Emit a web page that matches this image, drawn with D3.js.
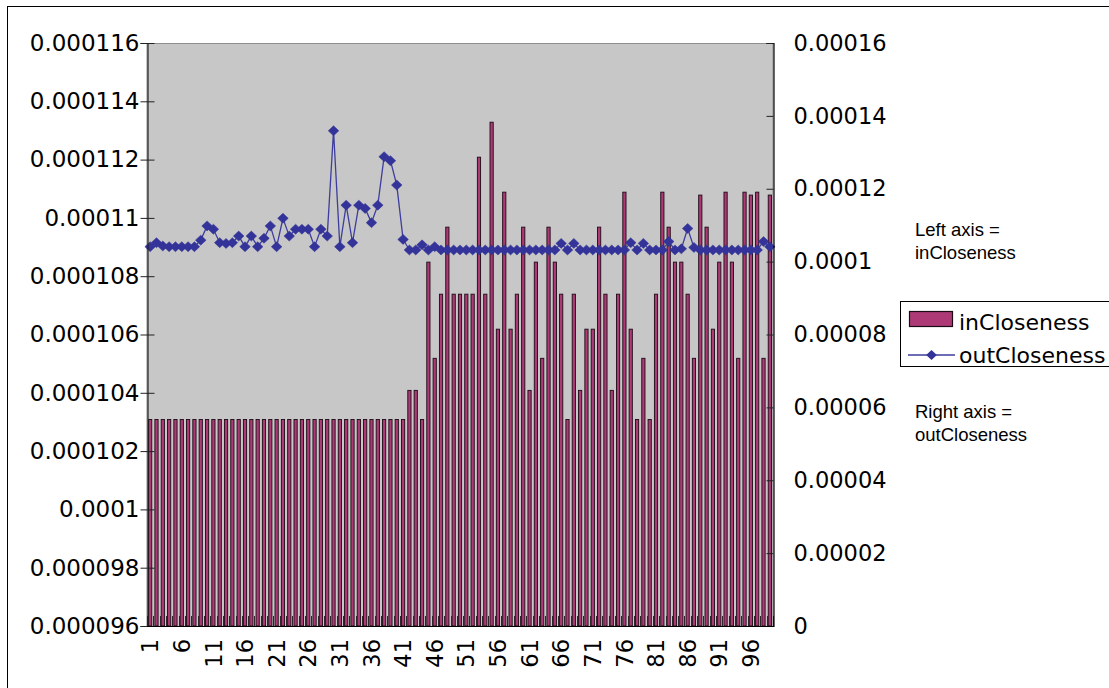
<!DOCTYPE html>
<html>
<head>
<meta charset="utf-8">
<script src="https://cdn.jsdelivr.net/npm/d3@7"></script>
<style>
  html, body { margin: 0; padding: 0; background: #ffffff; }
  svg { display: block; }
</style>
</head>
<body>
<svg id="chart" width="1109" height="688"></svg>
<script>
// Node indices 1..99
const categories = d3.range(1, 100).map(String);

// inCloseness per node (left axis)
const inCloseness = [
  0.0001031, 0.0001031, 0.0001031, 0.0001031, 0.0001031, 0.0001031, 0.0001031, 0.0001031, 0.0001031, 0.0001031,
  0.0001031, 0.0001031, 0.0001031, 0.0001031, 0.0001031, 0.0001031, 0.0001031, 0.0001031, 0.0001031, 0.0001031,
  0.0001031, 0.0001031, 0.0001031, 0.0001031, 0.0001031, 0.0001031, 0.0001031, 0.0001031, 0.0001031, 0.0001031,
  0.0001031, 0.0001031, 0.0001031, 0.0001031, 0.0001031, 0.0001031, 0.0001031, 0.0001031, 0.0001031, 0.0001031,
  0.0001031, 0.0001041, 0.0001041, 0.0001031, 0.0001085, 0.0001052, 0.0001074, 0.0001097, 0.0001074, 0.0001074,
  0.0001074, 0.0001074, 0.0001121, 0.0001074, 0.0001133, 0.0001062, 0.0001109, 0.0001062, 0.0001074, 0.0001097,
  0.0001041, 0.0001085, 0.0001052, 0.0001097, 0.0001085, 0.0001074, 0.0001031, 0.0001074, 0.0001041, 0.0001062,
  0.0001062, 0.0001097, 0.0001074, 0.0001041, 0.0001074, 0.0001109, 0.0001062, 0.0001031, 0.0001052, 0.0001031,
  0.0001074, 0.0001109, 0.0001097, 0.0001085, 0.0001085, 0.0001074, 0.0001052, 0.0001108, 0.0001097, 0.0001062,
  0.0001085, 0.0001109, 0.0001085, 0.0001052, 0.0001109, 0.0001108, 0.0001109, 0.0001052, 0.0001108
];

// outCloseness per node (right axis)
const outCloseness = [
  0.0001041, 0.0001052, 0.0001043, 0.0001041, 0.0001041, 0.0001041, 0.0001041, 0.0001041, 0.0001059, 0.0001098,
  0.0001089, 0.0001052, 0.0001050, 0.0001052, 0.0001070, 0.0001041, 0.0001070, 0.0001041, 0.0001064, 0.0001098,
  0.0001041, 0.0001119, 0.0001070, 0.0001089, 0.0001089, 0.0001089, 0.0001041, 0.0001089, 0.0001070, 0.0001359,
  0.0001041, 0.0001155, 0.0001052, 0.0001155, 0.0001146, 0.0001107, 0.0001155, 0.0001288, 0.0001277, 0.0001210,
  0.0001061, 0.0001032, 0.0001032, 0.0001046, 0.0001032, 0.0001041, 0.0001032, 0.0001032, 0.0001032, 0.0001032,
  0.0001032, 0.0001032, 0.0001032, 0.0001032, 0.0001032, 0.0001032, 0.0001032, 0.0001032, 0.0001032, 0.0001032,
  0.0001032, 0.0001032, 0.0001032, 0.0001032, 0.0001032, 0.0001050, 0.0001032, 0.0001050, 0.0001032, 0.0001032,
  0.0001032, 0.0001032, 0.0001032, 0.0001032, 0.0001032, 0.0001032, 0.0001052, 0.0001032, 0.0001050, 0.0001032,
  0.0001032, 0.0001032, 0.0001055, 0.0001032, 0.0001035, 0.0001091, 0.0001039, 0.0001032, 0.0001032, 0.0001032,
  0.0001032, 0.0001032, 0.0001032, 0.0001032, 0.0001032, 0.0001032, 0.0001032, 0.0001055, 0.0001041
];

// Axis ticks
const leftTickValues = [0.000096, 0.000098, 0.0001, 0.000102, 0.000104, 0.000106, 0.000108, 0.00011, 0.000112, 0.000114, 0.000116];
const leftTickLabels = ["0.000096", "0.000098", "0.0001", "0.000102", "0.000104", "0.000106", "0.000108", "0.00011", "0.000112", "0.000114", "0.000116"];
const rightTickValues = [0, 0.00002, 0.00004, 0.00006, 0.00008, 0.0001, 0.00012, 0.00014, 0.00016];
const rightTickLabels = ["0", "0.00002", "0.00004", "0.00006", "0.00008", "0.0001", "0.00012", "0.00014", "0.00016"];
const xTickLabels = ["1", "6", "11", "16", "21", "26", "31", "36", "41", "46", "51", "56", "61", "66", "71", "76", "81", "86", "91", "96"];

const seriesNames = ["inCloseness", "outCloseness"];
const notes = [["Left axis =", "inCloseness"], ["Right axis =", "outCloseness"]];

// ---- layout ----
const plot = { left: 147, right: 773, top: 43, bottom: 626 };
const tickFont = "'DejaVu Sans', Verdana, sans-serif";
const noteFont = "'Liberation Sans', Arial, sans-serif";
const barFill = "#ad3a76";
const barEdge = "#1c0b14";
const lineColor = "#333399";

const svg = d3.select("#chart");

// outer chart frame
svg.append("rect")
  .attr("x", 7.5).attr("y", 6.5)
  .attr("width", 1120).attr("height", 700)
  .attr("fill", "#ffffff").attr("stroke", "#000").attr("stroke-width", 1);

const x = d3.scaleBand()
  .domain(categories)
  .range([plot.left, plot.right])
  .paddingInner(1 / 3)
  .paddingOuter(1 / 6);

const yLeft = d3.scaleLinear().domain([0.000096, 0.000116]).range([plot.bottom, plot.top]);
const yRight = d3.scaleLinear().domain([0, 0.00016]).range([plot.bottom, plot.top]);

// plot area
svg.append("rect")
  .attr("x", plot.left).attr("y", plot.top + 0.5)
  .attr("width", plot.right - plot.left).attr("height", plot.bottom - plot.top)
  .attr("fill", "#c7c7c7").attr("stroke", "#8f8f8f").attr("stroke-width", 1);

// bars: inCloseness
svg.append("g")
  .selectAll("rect")
  .data(categories)
  .join("rect")
  .attr("x", d => x(d) + 0.5)
  .attr("y", (d, i) => yLeft(inCloseness[i]) + 0.5)
  .attr("width", x.bandwidth() - 1)
  .attr("height", (d, i) => yLeft(0.000096) - yLeft(inCloseness[i]) - 0.5)
  .attr("fill", barFill)
  .attr("stroke", barEdge)
  .attr("stroke-width", 0.9);

// category tick marks along the bottom (inside)
const step = x.step();
const half = (step - x.bandwidth()) / 2;
const bounds = categories.map(d => x(d) - half).concat([x(categories[categories.length - 1]) + x.bandwidth() + half]);
svg.append("g")
  .selectAll("line")
  .data(bounds)
  .join("line")
  .attr("x1", d => Math.round(d) + 0.5).attr("x2", d => Math.round(d) + 0.5)
  .attr("y1", plot.bottom - 10).attr("y2", plot.bottom)
  .attr("stroke", "#2a2a2a").attr("stroke-width", 1);

// line: outCloseness
const cx = d => x(d) + x.bandwidth() / 2;
const line = d3.line()
  .x((d, i) => cx(categories[i]))
  .y(d => yRight(d));
svg.append("path")
  .datum(outCloseness)
  .attr("d", line)
  .attr("fill", "none")
  .attr("stroke", "#3d3d9e")
  .attr("stroke-width", 1.3);

const diamond = "M0,-5L5.3,0L0,5L-5.3,0Z";
svg.append("g")
  .selectAll("path")
  .data(outCloseness)
  .join("path")
  .attr("d", diamond)
  .attr("transform", (d, i) => `translate(${cx(categories[i])},${yRight(d)})`)
  .attr("fill", lineColor)
  .attr("stroke", lineColor)
  .attr("stroke-width", 0.5);

// left axis
const leftAxis = d3.axisLeft(yLeft)
  .tickValues(leftTickValues)
  .tickFormat((d, i) => leftTickLabels[i])
  .tickSize(7)
  .tickPadding(1);
const gl = svg.append("g").attr("transform", `translate(${plot.left + 0.5},0)`).call(leftAxis);
gl.select(".domain").attr("stroke", "#222").attr("stroke-width", 1.2);
gl.selectAll(".tick line").attr("x1", 7).attr("stroke", "#222");
gl.selectAll(".tick text")
  .attr("font-family", tickFont).attr("font-size", 23).attr("fill", "#000");

// right axis
const rightAxis = d3.axisRight(yRight)
  .tickValues(rightTickValues)
  .tickFormat((d, i) => rightTickLabels[i])
  .tickSize(-7)
  .tickPadding(20);
const gr = svg.append("g").attr("transform", `translate(${plot.right + 0.5},0)`).call(rightAxis);
gr.select(".domain").attr("stroke", "#000").attr("stroke-width", 1.2);
gr.selectAll(".tick line").attr("stroke", "#222");
gr.selectAll(".tick text")
  .attr("font-family", tickFont).attr("font-size", 22.5).attr("fill", "#000");

// bottom axis line
svg.append("line")
  .attr("x1", plot.left).attr("x2", plot.right + 1)
  .attr("y1", plot.bottom + 0.5).attr("y2", plot.bottom + 0.5)
  .attr("stroke", "#000").attr("stroke-width", 1.2);

// category labels (rotated)
svg.append("g")
  .selectAll("text")
  .data(xTickLabels)
  .join("text")
  .attr("transform", d => `translate(${cx(d)},639) rotate(-90)`)
  .attr("text-anchor", "end")
  .attr("dy", "0.36em")
  .attr("font-family", tickFont).attr("font-size", 22.5)
  .text(d => d);

// legend
const lg = svg.append("g");
lg.append("rect")
  .attr("x", 900.5).attr("y", 301.5).attr("width", 220).attr("height", 65)
  .attr("fill", "#ffffff").attr("stroke", "#000").attr("stroke-width", 1);
lg.append("rect")
  .attr("x", 909.5).attr("y", 311.5).attr("width", 43).attr("height", 15)
  .attr("fill", barFill).attr("stroke", barEdge).attr("stroke-width", 1.2);
lg.append("text")
  .attr("x", 959).attr("y", 330)
  .attr("font-family", tickFont).attr("font-size", 22)
  .text(seriesNames[0]);
lg.append("line")
  .attr("x1", 908).attr("x2", 955).attr("y1", 355).attr("y2", 355)
  .attr("stroke", "#3d3d9e").attr("stroke-width", 1.3);
lg.append("path")
  .attr("d", diamond)
  .attr("transform", "translate(931.5,355)")
  .attr("fill", lineColor);
lg.append("text")
  .attr("x", 959).attr("y", 363)
  .attr("font-family", tickFont).attr("font-size", 22)
  .text(seriesNames[1]);

// axis notes
const noteY = [236, 418];
notes.forEach((lines, k) => {
  lines.forEach((t, j) => {
    svg.append("text")
      .attr("x", 915).attr("y", noteY[k] + j * 22.5)
      .attr("font-family", noteFont).attr("font-size", 18.5)
      .attr("fill", "#000")
      .text(t);
  });
});
</script>
</body>
</html>
